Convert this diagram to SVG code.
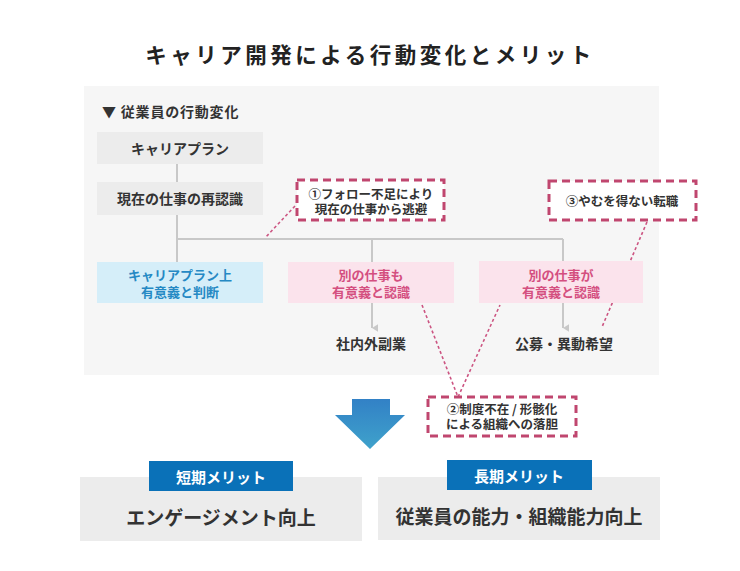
<svg xmlns="http://www.w3.org/2000/svg" width="740" height="571" viewBox="0 0 740 571">
<defs>
<style>
text{font-family:"Noto Sans CJK JP","Noto Sans",sans-serif;font-weight:700;text-anchor:middle;dominant-baseline:central}
.gbox{fill:#ececec}
.blue{fill:#d5eef9}
.pink{fill:#fbe3ec}
.dash{fill:#ffffff;stroke:#c0466f;stroke-width:3;stroke-dasharray:8 5}
.conn{stroke:#c8c8c8;stroke-width:2;fill:none}
.dot{stroke:#cc5582;stroke-width:1.6;stroke-dasharray:3 2.5;fill:none}
.t14{font-size:14px;fill:#333333}
.t13b{font-size:13px;fill:#2589c4}
.t13p{font-size:13px;fill:#d44f80}
.t12{font-size:12.5px;fill:#333333}
.lab{font-size:15px;fill:#ffffff}
.big{font-size:19px;fill:#333333}
</style>
<marker id="ah" viewBox="0 0 10 10" refX="5" refY="8" markerWidth="8" markerHeight="8" markerUnits="userSpaceOnUse" orient="auto-start-reverse">
<path d="M0,0 L10,0 L5,8 Z" fill="#c8c8c8"/>
</marker>
<linearGradient id="ag" x1="0" y1="0" x2="0" y2="1">
<stop offset="0" stop-color="#3281c6"/>
<stop offset="1" stop-color="#3fa2cb"/>
</linearGradient>
</defs>
<rect width="740" height="571" fill="#ffffff"/>
<text x="370" y="53" style="font-size:21.5px;letter-spacing:3.5px;fill:#222222">キャリア開発による行動変化とメリット</text>
<g id="panel">
<rect x="84" y="86" width="575" height="289" fill="#f6f6f6"/>
<text x="102" y="111" style="font-size:14px;letter-spacing:0.8px;fill:#333333;text-anchor:start">▼ 従業員の行動変化</text>
</g>
<g id="connectors">
<path class="conn" d="M177,164 V182 M177,215 V262 M177,239 H563 M372,239 V262 M563,239 V262"/>
<line class="conn" x1="372" y1="303" x2="372" y2="328" marker-end="url(#ah)"/>
<line class="conn" x1="563" y1="303" x2="563" y2="328" marker-end="url(#ah)"/>
<path class="dot" d="M295,206 L265,238"/>
<path class="dot" d="M647,222 L602,327"/>
<path class="dot" d="M422,305 L458,397 L500,305"/>
</g>
<g id="n-plan"><rect class="gbox" x="97" y="132" width="166" height="32"/><text class="t14" x="180" y="148">キャリアプラン</text></g>
<g id="n-recog"><rect class="gbox" x="97" y="182" width="166" height="33"/><text class="t14" x="180" y="198">現在の仕事の再認識</text></g>
<g id="n-judge"><rect class="blue" x="97" y="262" width="166" height="41"/><text class="t13b" x="180" y="274.5">キャリアプラン上</text><text class="t13b" x="180" y="291">有意義と判断</text></g>
<g id="n-other1"><rect class="pink" x="288" y="262" width="166" height="41"/><text class="t13p" x="371" y="274.5">別の仕事も</text><text class="t13p" x="371" y="291">有意義と認識</text></g>
<g id="n-other2"><rect class="pink" x="479" y="261" width="164" height="42"/><text class="t13p" x="561" y="274.5">別の仕事が</text><text class="t13p" x="561" y="291">有意義と認識</text></g>
<g id="n-side"><text class="t14" x="371" y="343">社内外副業</text></g>
<g id="n-move"><text class="t14" x="564" y="343">公募・異動希望</text></g>
<g id="c1"><rect class="dash" x="297" y="180" width="147" height="40"/><text class="t12" x="371" y="193.5">①フォロー不足により</text><text class="t12" x="371" y="208">現在の仕事から逃避</text></g>
<g id="c3"><rect class="dash" x="549" y="181" width="147" height="39"/><text class="t12" x="622" y="200">③やむを得ない転職</text></g>
<g id="c2"><rect class="dash" x="428" y="397" width="148" height="39"/><text class="t12" x="502" y="408.5">②制度不在 / 形骸化</text><text class="t12" x="502" y="423">による組織への落胆</text></g>
<g id="bigarrow"><path d="M352,399 H390 V415 H405 L370,449 L335,415 H352 Z" fill="url(#ag)"/></g>
<g id="short"><rect class="gbox" x="80" y="477" width="282" height="64"/><rect x="149" y="461" width="144" height="30" fill="#0a71b8"/><text class="lab" x="221" y="476">短期メリット</text><text class="big" x="221" y="516">エンゲージメント向上</text></g>
<g id="long"><rect class="gbox" x="378" y="477" width="282" height="63"/><rect x="447" y="460" width="145" height="30" fill="#0a71b8"/><text class="lab" x="519" y="475">長期メリット</text><text class="big" x="519" y="515">従業員の能力・組織能力向上</text></g>
</svg>
